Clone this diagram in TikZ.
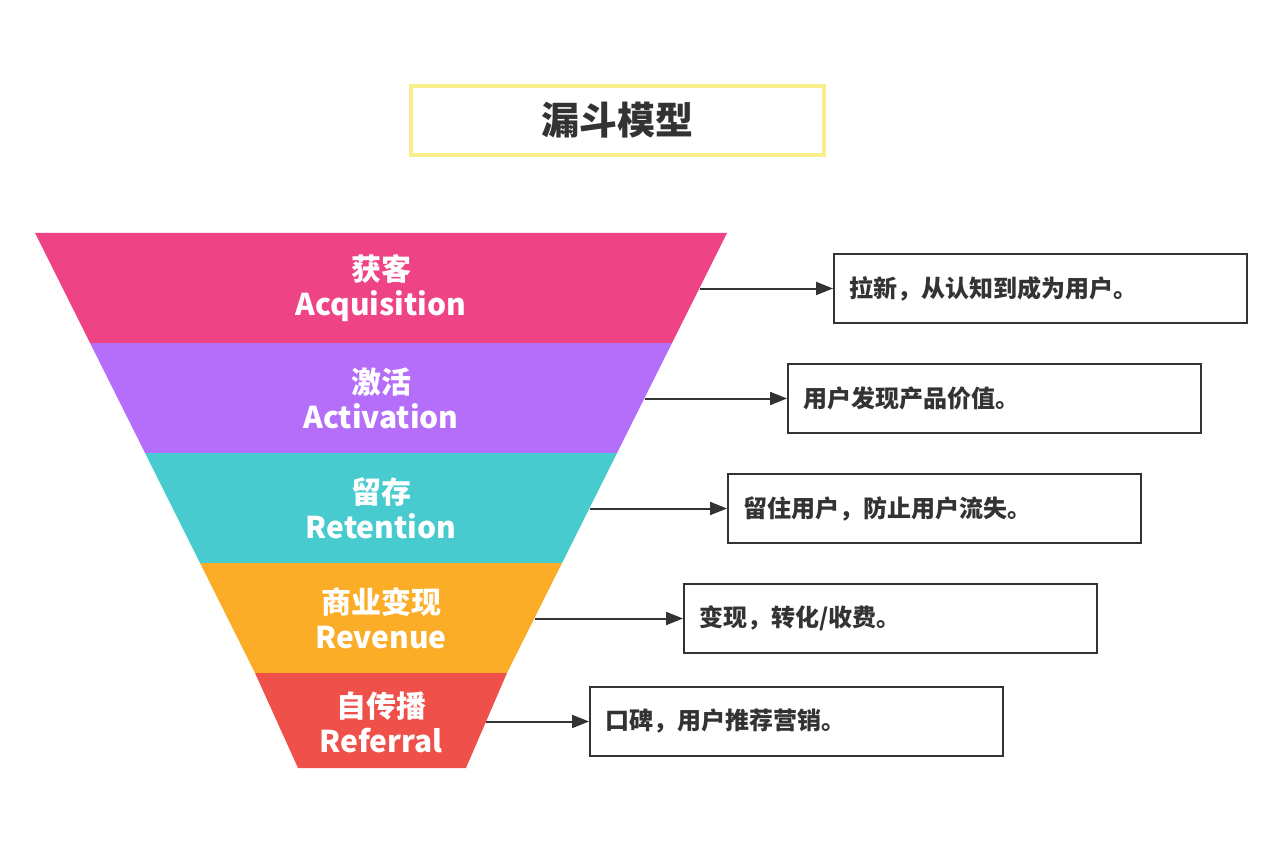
\documentclass[tikz,border=0pt]{standalone}
\usepackage{fontspec}
\setmainfont{Noto Sans CJK SC}
\usetikzlibrary{arrows.meta}
\definecolor{cpink}{HTML}{EE4486}
\definecolor{cpurple}{HTML}{B56EFA}
\definecolor{cteal}{HTML}{48CBCF}
\definecolor{corange}{HTML}{FBAD28}
\definecolor{cred}{HTML}{F0504A}
\definecolor{ctitle}{HTML}{F8EE8C}
\definecolor{cdark}{HTML}{333333}
\tikzset{
  bandlabel/.style={text=white, font=\fontsize{30}{35}\selectfont\bfseries, align=center, inner sep=0pt},
  descbox/.style={draw=cdark, line width=2pt, minimum width=413pt, minimum height=69pt, anchor=north west, inner sep=0pt},
  desctext/.style={text=cdark, font=\fontsize{24}{28}\selectfont\bfseries, anchor=west, inner sep=0pt},
  conn/.style={draw=cdark, line width=2pt, -{Triangle[length=17pt,width=13pt]}},
}
\begin{document}
\begin{tikzpicture}[x=1pt,y=-1pt]
\useasboundingbox (0,0) rectangle (1280,853);
\fill[white] (0,0) rectangle (1280,853);
% title
\node[draw=ctitle, line width=4pt, minimum width=413pt, minimum height=69pt, anchor=north west, inner sep=0pt] (title) at (409,84) {};
\node[text=cdark, font=\fontsize{38}{42}\selectfont\bfseries, inner sep=0pt] (titletext) at (title.center) {漏斗模型};
% funnel bands
\fill[cpink]   (35,233) -- (727,233) -- (672,343) -- (90,343) -- cycle;
\fill[cpurple] (90,343) -- (672,343) -- (617,453) -- (145,453) -- cycle;
\fill[cteal]   (145,453) -- (617,453) -- (562,563) -- (200,563) -- cycle;
\fill[corange] (200,563) -- (562,563) -- (507,673) -- (255,673) -- cycle;
\fill[cred]    (255,673) -- (507,673) -- (466,768) -- (298,768) -- cycle;
% labels
\node[bandlabel] (b1) at (381,288) {获客\\Acquisition};
\node[bandlabel] (b2) at (381,398) {激活\\Activation};
\node[bandlabel] (b3) at (381,508) {留存\\Retention};
\node[bandlabel] (b4) at (381,618) {商业变现\\Revenue};
\node[bandlabel] (b5) at (381,722) {自传播\\Referral};
% boxes
\node[descbox] (d1) at (833,253) {};
\node[descbox] (d2) at (787,363) {};
\node[descbox] (d3) at (727,473) {};
\node[descbox] (d4) at (683,583) {};
\node[descbox] (d5) at (589,686) {};
\node[desctext] (t1) at ([xshift=16pt]d1.west) {拉新，从认知到成为用户。};
\node[desctext] (t2) at ([xshift=16pt]d2.west) {用户发现产品价值。};
\node[desctext] (t3) at ([xshift=16pt]d3.west) {留住用户，防止用户流失。};
\node[desctext] (t4) at ([xshift=16pt]d4.west) {变现，转化/收费。};
\node[desctext] (t5) at ([xshift=16pt]d5.west) {口碑，用户推荐营销。};
% edge points (on the funnel's right edge, level with each box)
\coordinate (e1) at (d1.west -| 700,0);
\coordinate (e2) at (d2.west -| 645,0);
\coordinate (e3) at (d3.west -| 590,0);
\coordinate (e4) at (d4.west -| 535,0);
\coordinate (e5) at (d5.west -| 486,0);
% connectors
\draw[conn] (e1) -- (d1.west);
\draw[conn] (e2) -- (d2.west);
\draw[conn] (e3) -- (d3.west);
\draw[conn] (e4) -- (d4.west);
\draw[conn] (e5) -- (d5.west);
\end{tikzpicture}
\end{document}
